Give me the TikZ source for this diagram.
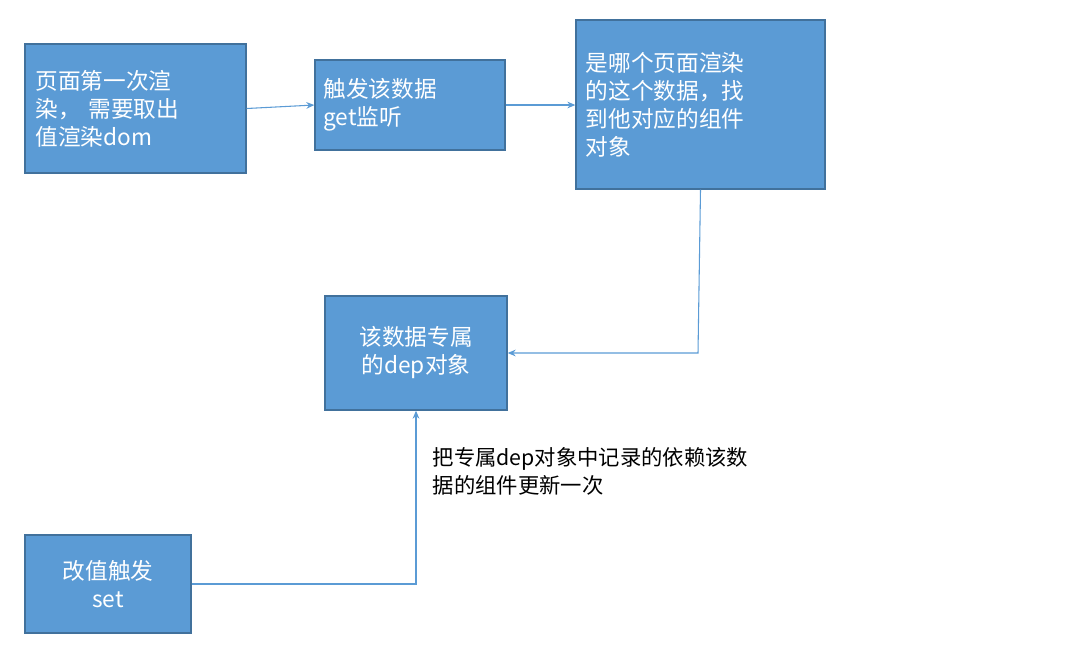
\documentclass[tikz,border=0pt]{standalone}
\usepackage{fontspec}
\setmainfont{Noto Sans CJK SC}
\usetikzlibrary{arrows.meta}
\definecolor{bfill}{HTML}{5B9BD5}
\definecolor{bdraw}{HTML}{41719C}
\begin{document}
\begin{tikzpicture}[x=0.75pt,y=-0.75pt,
  box/.style={draw=bdraw,fill=bfill,line width=1pt,text=white,font=\fontsize{17}{21}\selectfont,inner sep=0pt},
  con/.style={draw=bfill,line width=0.8pt,-{Stealth[length=6pt,width=5pt]}}]
\useasboundingbox (0,0) rectangle (1084,665);
\node[box,minimum width=221*0.75pt,minimum height=129*0.75pt,text width=150pt,align=left] (a) at (135.5,108.5) {页面第一次渲\\染， 需要取出\\值渲染dom};
\node[box,minimum width=190*0.75pt,minimum height=90*0.75pt,text width=130pt,align=left] (b) at (410,105) {触发该数据\\get监听};
\node[box,minimum width=249*0.75pt,minimum height=169*0.75pt,text width=172pt,align=left] (c) at (700.5,104.5) {是哪个页面渲染\\的这个数据，找\\到他对应的组件\\对象};
\node[box,minimum width=182*0.75pt,minimum height=114*0.75pt,align=center] (d) at (416,353) {该数据专属\\的dep对象};
\node[box,minimum width=166*0.75pt,minimum height=98*0.75pt,align=center] (e) at (108,584) {改值触发\\set};
\draw[con] (a.east) ++(0,0) -- (b.west);
\draw[con] (b.east) -- (c.west |- b.east);
\draw[con] (c.south) -- (698,353) -- (d.east);
\draw[con] (e.east) -| (d.south);
\node[anchor=north west,align=left,font=\fontsize{16}{21}\selectfont] (t) at (428,443) {把专属dep对象中记录的依赖该数\\据的组件更新一次};
\end{tikzpicture}
\end{document}
